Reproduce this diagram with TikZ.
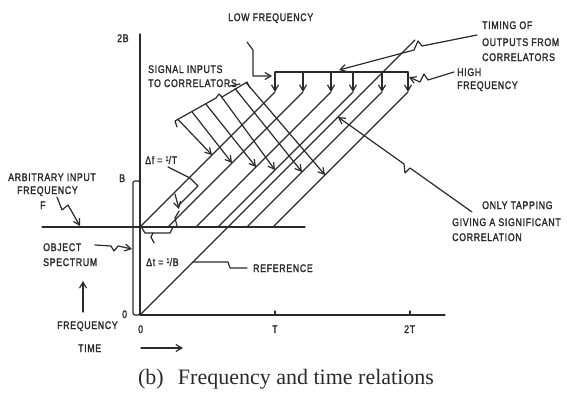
\documentclass[tikz,border=0pt]{standalone}
\usepackage{fontspec}
\setmainfont{Liberation Serif}
\newfontfamily\labfont[FakeStretch=0.8,LetterSpace=6,FakeBold=1.6]{Liberation Sans}
\usetikzlibrary{arrows.meta,calc}
\definecolor{ink}{HTML}{2A2A2A}
\begin{document}
\begin{tikzpicture}[x=1pt,y=-1pt,
  ln/.style={line width=1.2pt, draw=ink, line join=round, line cap=round},
  arr/.style={ln, -{Straight Barb[length=6pt,width=7pt]}},
  lab/.style={font=\labfont\fontsize{11}{13}\selectfont, inner sep=0pt, anchor=base west, text=ink},
  captext/.style={font=\fontsize{22}{26}\selectfont, inner sep=0pt, text=ink}]
\useasboundingbox (0,0) rectangle (567,394);

% axes
\coordinate (o) at (140,315);
\coordinate (ytop) at (140,34);
\coordinate (xend) at (445,315);
\draw[ln] (ytop) -- (o) -- (xend);
\coordinate (tk1a) at (275,315); \coordinate (tk1b) at (275,311);
\coordinate (tk2a) at (410,315); \coordinate (tk2b) at (410,311);
\draw[ln] (tk1a) -- (tk1b); \draw[ln] (tk2a) -- (tk2b);

% object spectrum
\coordinate (osa) at (133,181); \coordinate (osb) at (140,315);
\draw[ln, rounded corners=1.5pt] (osa) rectangle (osb);

% arbitrary input frequency line F
\coordinate (fl) at (42,227); \coordinate (fr) at (305,227);
\draw[ln] (fl) -- (fr);

% reference line
\coordinate (refend) at (415,40);
\draw[ln] (o) -- (refend);

% signal diagonals with top output arrows
\foreach \i/\xo/\xt in {1/140/275, 2/168/303, 3/196/331, 4/218/353, 5/247/382, 6/273/408}{
  \coordinate (s\i) at (\xo,227);
  \coordinate (t\i) at (\xt,92);
  \coordinate (h\i) at (\xt,72);
  \draw[ln] (s\i) -- (t\i);
  \draw[arr] (h\i) -- (t\i);
}
\draw[ln] (h1) -- (h6);

% signal inputs bracket
\coordinate (br0) at (177,127);
\coordinate (br1) at (175,121);
\coordinate (br2) at (216,98);
\coordinate (br3) at (219,94);
\coordinate (br4) at (222,97);
\coordinate (br5) at (247,82);
\coordinate (br6) at (250,88);
\draw[ln] (br0) -- (br1) -- (br2) -- (br3) -- (br4) -- (br5) -- (br6);

% signal input arrows
\foreach \i/\bx/\by/\tx/\ty in {1/178/119.4/212/155, 2/192/111.8/232/163, 3/206/104.2/256/167, 4/221/96.1/275/170, 5/235/88.5/302/172, 6/246/82.5/325/175}{
  \coordinate (b\i) at (\bx,\by);
  \coordinate (a\i) at (\tx,\ty);
  \draw[arr] (b\i) -- (a\i);
}

% delta f marker
\coordinate (dfa) at (168,167);
\coordinate (dfb) at (190,178);
\coordinate (dfc) at (198,186);
\coordinate (dfd) at (179,205);
\draw[ln] (dfa) -- (dfb) -- (dfc) -- (dfd);
\coordinate (dfe) at (175,194);
\coordinate (dff) at (179,209);
\draw[arr] (dfe) -- (dff);
\coordinate (dfg) at (179,211);
\coordinate (dfh) at (175,218);
\coordinate (dfi) at (177,226);
\draw[ln] (dfg) -- (dfh) -- (dfi);

% delta t bracket
\coordinate (dta) at (142,228); \coordinate (dtb) at (145,233);
\coordinate (dtc) at (170,233); \coordinate (dtd) at (173,227);
\draw[ln] (dta) -- (dtb) -- (dtc) -- (dtd);
\coordinate (dte) at (153,233); \coordinate (dtf) at (151,237); \coordinate (dtg) at (154,243);
\draw[ln] (dte) -- (dtf) -- (dtg);

% labels
\node[lab] (lowf) at (228,21) {LOW FREQUENCY};
\node[lab] (tim1) at (482,29) {TIMING OF};
\node[lab] (tim2) at (482,46) {OUTPUTS FROM};
\node[lab] (tim3) at (482,61) {CORRELATORS};
\node[lab] (hi1) at (457,76) {HIGH};
\node[lab] (hi2) at (457,89) {FREQUENCY};
\node[lab] (sig1) at (148,73) {SIGNAL INPUTS};
\node[lab] (sig2) at (148,87) {TO CORRELATORS};
\node[lab] (arb1) at (8,181) {ARBITRARY INPUT};
\node[lab] (arb2) at (17,194) {FREQUENCY};
\node[lab] (arbF) at (40,209) {F};
\node[lab] (obj1) at (43,251) {OBJECT};
\node[lab] (obj2) at (43,266) {SPECTRUM};
\node[lab] (freq) at (57,329) {FREQUENCY};
\node[lab] (time) at (78,352) {TIME};
\node[lab] (ref) at (253,272) {REFERENCE};
\node[lab] (tap1) at (482,209) {ONLY TAPPING};
\node[lab] (tap2) at (452,226) {GIVING A SIGNIFICANT};
\node[lab] (tap3) at (452,241) {CORRELATION};
\node[lab] (df) at (145,164) {Δf = \raisebox{3pt}{\fontsize{7}{8}\selectfont 1}/T};
\node[lab] (dt) at (146,266) {Δt = \raisebox{3pt}{\fontsize{7}{8}\selectfont 1}/B};
\node[lab] (ax2B) at (117,42) {2B};
\node[lab] (axB) at (119,182) {B};
\node[lab] (ax0) at (122,318) {0};
\node[lab] (at0) at (138,333) {0};
\node[lab] (atT) at (272,333) {T};
\node[lab] (at2T) at (404,333) {2T};
\node[captext] (caption) at (286,379) {(b)\hspace{0.4em} Frequency and time relations};

% leaders
\coordinate (lf1) at (247,42); \coordinate (lf2) at (253,50);
\coordinate (lf3) at (253,76); \coordinate (lf4) at (272,76);
\draw[arr] (lf1) -- (lf2) -- (lf3) -- (lf4);

\coordinate (tm1) at (477,35); \coordinate (tm2) at (422,46);
\coordinate (tm3) at (418,41); \coordinate (tm4) at (414,50);
\coordinate (tm5) at (339,70);
\draw[arr] (tm1) -- (tm2) -- (tm3) -- (tm4) -- (tm5);

\coordinate (hf1) at (454,72); \coordinate (hf2) at (428,80);
\coordinate (hf3) at (424,74); \coordinate (hf4) at (420,82);
\coordinate (hf5) at (409,77);
\draw[arr] (hf1) -- (hf2) -- (hf3) -- (hf4) -- (hf5);

\coordinate (ot1) at (472,212); \coordinate (ot2) at (410,168);
\coordinate (ot3) at (405,173); \coordinate (ot4) at (404,164);
\coordinate (ot5) at (338,117);
\draw[arr] (ot1) -- (ot2) -- (ot3) -- (ot4) -- (ot5);

\coordinate (ar1) at (57,197); \coordinate (ar2) at (62,210);
\coordinate (ar3) at (68,205); \coordinate (ar4) at (80,226);
\draw[arr] (ar1) -- (ar2) -- (ar3) -- (ar4);

\coordinate (os1) at (95,245); \coordinate (os2) at (111,246);
\coordinate (os3) at (114,251); \coordinate (os4) at (118,246);
\coordinate (os5) at (132,249);
\draw[arr] (os1) -- (os2) -- (os3) -- (os4) -- (os5);

\coordinate (rf1) at (193,262); \coordinate (rf2) at (228,262);
\coordinate (rf3) at (230,268); \coordinate (rf4) at (247,268);
\draw[ln] (rf1) -- (rf2) -- (rf3) -- (rf4);

\coordinate (sg1) at (230,86); \coordinate (sg2) at (240,84);
\draw[ln] (sg1) -- (sg2);

\coordinate (fu1) at (83,312); \coordinate (fu2) at (83,281);
\draw[arr] (fu1) -- (fu2);
\coordinate (ta1) at (141,348); \coordinate (ta2) at (183,348);
\draw[arr] (ta1) -- (ta2);
\end{tikzpicture}
\end{document}
